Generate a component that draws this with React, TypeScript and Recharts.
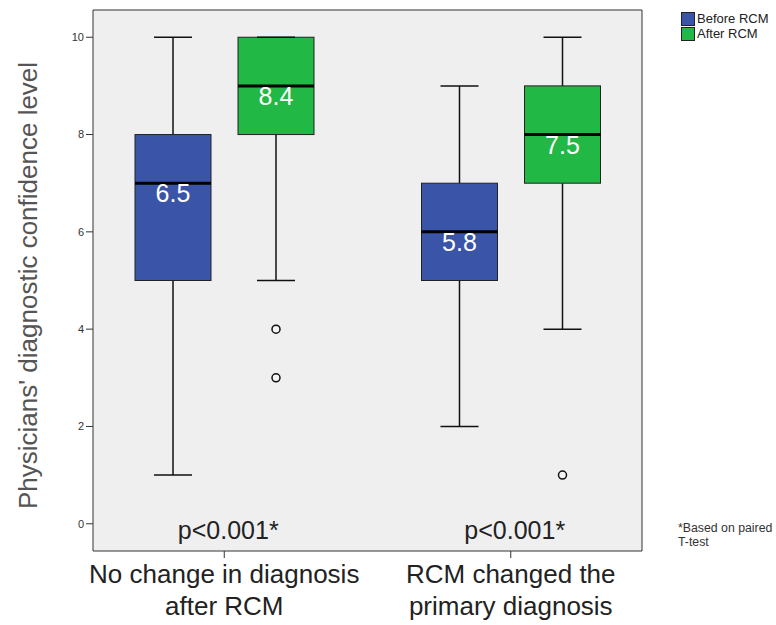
import React from "react";
import { ComposedChart, Bar, Line, XAxis, YAxis, CartesianGrid, Legend } from "recharts";

const categories = ["No change in diagnosis after RCM", "RCM changed the primary diagnosis"];
const categoryLines = [
    ["No change in diagnosis", "after RCM"],
    ["RCM changed the", "primary diagnosis"],
];
const pValues = ["p<0.001*", "p<0.001*"];
const seriesNames = ["Before RCM", "After RCM"];

const beforeMin = [1, 2];
const beforeQ1 = [5, 5];
const beforeMedian = [7, 6];
const beforeQ3 = [8, 7];
const beforeMax = [10, 9];
const beforeMean = ["6.5", "5.8"];
const beforeOutliers: number[][] = [[], []];

const afterMin = [5, 4];
const afterQ1 = [8, 7];
const afterMedian = [9, 8];
const afterQ3 = [10, 9];
const afterMax = [10, 10];
const afterMean = ["8.4", "7.5"];
const afterOutliers: number[][] = [[4, 3], [1]];

const yTicks = [0, 2, 4, 6, 8, 10];
const yDomain = [-0.56, 10.56];

const BLUE = "#3a54a8";
const GREEN = "#22b845";
const FONT = '"Liberation Sans", Arial, sans-serif';

const data = categories.map((name, i) => ({
    name,
    before: [beforeQ1[i], beforeQ3[i]],
    after: [afterQ1[i], afterQ3[i]],
    frame: beforeMedian[i],
    beforeStats: {
        min: beforeMin[i], q1: beforeQ1[i], median: beforeMedian[i], q3: beforeQ3[i],
        max: beforeMax[i], mean: beforeMean[i], outliers: beforeOutliers[i],
    },
    afterStats: {
        min: afterMin[i], q1: afterQ1[i], median: afterMedian[i], q3: afterQ3[i],
        max: afterMax[i], mean: afterMean[i], outliers: afterOutliers[i],
    },
}));

// box drawn from the [q1, q3] bar; whiskers etc. use the same px-per-unit
const BoxShape = (props: any) => {
    const { x, y, width, height, payload, fill, statsKey } = props;
    const s = payload[statsKey];
    const top = Math.min(y, y + height);
    const h = Math.abs(height);
    const ppu = h / (s.q3 - s.q1);
    const toY = (v: number) => top + (s.q3 - v) * ppu;
    const cx = x + width / 2;
    const cap = width / 4;
    const medY = toY(s.median);
    return (
        <g>
            <line x1={cx} x2={cx} y1={toY(s.max)} y2={toY(s.q3)} stroke="#111" strokeWidth={1.5} />
            <line x1={cx} x2={cx} y1={toY(s.q1)} y2={toY(s.min)} stroke="#111" strokeWidth={1.5} />
            <rect x={x} y={top} width={width} height={h} fill={fill} stroke="#222" strokeWidth={1} />
            <line x1={cx - cap} x2={cx + cap} y1={toY(s.max)} y2={toY(s.max)} stroke="#111" strokeWidth={1.5} />
            <line x1={cx - cap} x2={cx + cap} y1={toY(s.min)} y2={toY(s.min)} stroke="#111" strokeWidth={1.5} />
            <line x1={x} x2={x + width} y1={medY} y2={medY} stroke="#000" strokeWidth={3} />
            {s.outliers.map((o: number, k: number) => (
                <circle key={k} cx={cx} cy={toY(o)} r={4} fill="#f4f4f4" stroke="#111" strokeWidth={1.5} />
            ))}
            <text x={cx} y={medY + 19} textAnchor="middle" fill="#fff" fontSize={25} fontFamily={FONT}>
                {s.mean}
            </text>
        </g>
    );
};

const XTick = (props: any) => {
    const { x, y, index } = props;
    const lines = categoryLines[index] || [];
    return (
        <g>
            <text x={x + 4} y={y - 21} textAnchor="middle" fill="#222" fontSize={25} fontFamily={FONT}>
                {pValues[index]}
            </text>
            {lines.map((l, k) => (
                <text key={k} x={x} y={y + 23 + k * 32} textAnchor="middle" fill="#222" fontSize={26} fontFamily={FONT}>
                    {l}
                </text>
            ))}
        </g>
    );
};

const YLabel = (props: any) => {
    const { viewBox } = props;
    const cx = viewBox.x + 37;
    const cy = viewBox.y + viewBox.height / 2 + 5;
    return (
        <text
            x={cx}
            y={cy}
            transform={`rotate(-90, ${cx}, ${cy})`}
            textAnchor="middle"
            fill="#555"
            fontSize={26}
            fontFamily={FONT}
        >
            Physicians' diagnostic confidence level
        </text>
    );
};

const LegendContent = (props: any) => {
    const items = [...(props.payload || [])]
        .filter((p: any) => seriesNames.includes(p.value))
        .sort((a: any, b: any) => seriesNames.indexOf(a.value) - seriesNames.indexOf(b.value));
    return (
        <div style={{ fontFamily: FONT, fontSize: 13, color: "#222" }}>
            {items.map((p: any) => (
                <div key={p.value} style={{ display: "flex", alignItems: "center", height: 15 }}>
                    <span
                        style={{
                            display: "inline-block",
                            width: 12,
                            height: 12,
                            background: p.color,
                            border: "1px solid #222",
                            marginRight: 2,
                        }}
                    />
                    <span>{p.value}</span>
                </div>
            ))}
        </div>
    );
};

const App: React.FC = () => {
    return (
        <div style={{ position: "absolute", left: 0, top: 0, width: 776, height: 625, background: "#fff" }}>
            <ComposedChart
                width={776}
                height={625}
                data={data}
                margin={{ top: 9, right: 133, bottom: 0, left: 0 }}
                barSize={76}
                barGap={27}
            >
                <CartesianGrid horizontal={false} vertical={false} fill="#efefef" />
                <XAxis
                    dataKey="name"
                    height={74}
                    padding={{ left: -12, right: -12 }}
                    axisLine={{ stroke: "#333" }}
                    tickLine={{ stroke: "#333" }}
                    tickSize={7}
                    tick={<XTick />}
                    interval={0}
                />
                <XAxis
                    xAxisId="top"
                    orientation="top"
                    dataKey="name"
                    height={1}
                    tick={false}
                    tickLine={false}
                    axisLine={{ stroke: "#333" }}
                />
                <YAxis
                    width={93}
                    domain={yDomain}
                    ticks={yTicks}
                    allowDataOverflow
                    axisLine={{ stroke: "#333" }}
                    tickLine={{ stroke: "#333" }}
                    tickSize={7}
                    tick={{ fontSize: 11, fill: "#333", fontFamily: FONT }}
                    label={<YLabel />}
                />
                <YAxis
                    yAxisId="right"
                    orientation="right"
                    width={1}
                    domain={yDomain}
                    allowDataOverflow
                    tick={false}
                    tickLine={false}
                    axisLine={{ stroke: "#333" }}
                />
                <Legend
                    layout="horizontal"
                    verticalAlign="middle"
                    align="center"
                    wrapperStyle={{ top: 11, left: 681, width: 95 }}
                    content={<LegendContent />}
                />
                <Bar
                    dataKey="before"
                    name={seriesNames[0]}
                    fill={BLUE}
                    isAnimationActive={false}
                    shape={(p: any) => <BoxShape {...p} statsKey="beforeStats" />}
                />
                <Bar
                    dataKey="after"
                    name={seriesNames[1]}
                    fill={GREEN}
                    isAnimationActive={false}
                    shape={(p: any) => <BoxShape {...p} statsKey="afterStats" />}
                />
                {/* invisible series so the top/right frame axes are drawn */}
                <Line
                    xAxisId="top"
                    yAxisId="right"
                    dataKey="frame"
                    stroke="none"
                    dot={false}
                    activeDot={false}
                    legendType="none"
                    isAnimationActive={false}
                />
            </ComposedChart>
            <div
                style={{
                    position: "absolute",
                    left: 678,
                    top: 521,
                    fontFamily: FONT,
                    fontSize: 12.3,
                    lineHeight: "14px",
                    color: "#333",
                    whiteSpace: "nowrap",
                }}
            >
                *Based on paired
                <br />
                T-test
            </div>
        </div>
    );
};

export default App;
